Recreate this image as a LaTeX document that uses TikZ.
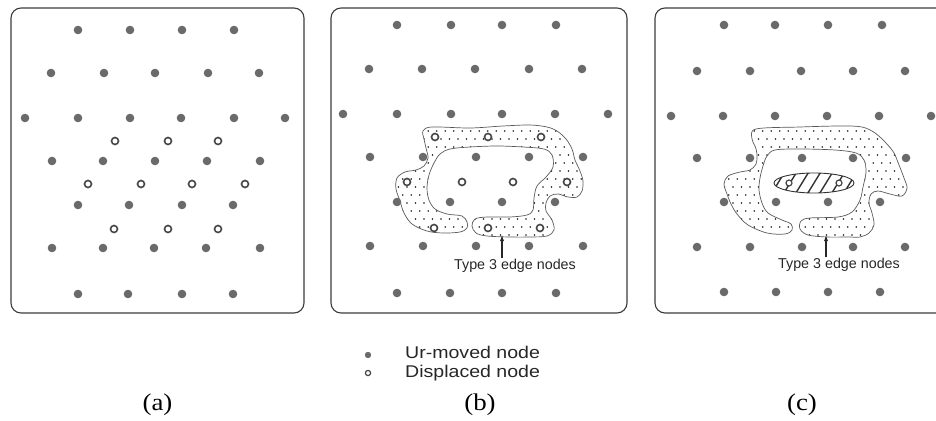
\documentclass[tikz,border=0pt]{standalone}
\usepackage{fontspec}
\setmainfont{Liberation Serif}
\newfontfamily\arialf{Liberation Sans}
\usetikzlibrary{arrows.meta}
\definecolor{dotgray}{HTML}{6A6A6A}
\definecolor{ringgray}{HTML}{454545}
\definecolor{framegray}{HTML}{3C3C3C}
\definecolor{blobline}{HTML}{5A5A5A}
\tikzset{
  frame/.style={draw=framegray, line width=1.1pt, rounded corners=10pt},
  udot/.style={fill=dotgray},
  dnode/.style={draw=ringgray, line width=1.6pt, fill=white},
  blob/.style={draw=blobline, line width=0.7pt},
  speck/.style={fill=black!90},
  hatch/.style={draw=black!80, line width=1.4pt},
  ellline/.style={draw=black!80, line width=0.9pt},
  ptr/.style={-{Latex[length=6pt,width=4.2pt]}, line width=1.1pt, draw=black!85},
  lbl/.style={font=\arialf\fontsize{14.3}{16}\selectfont, text=black!85, inner sep=0pt, anchor=base},
  leg/.style={font=\arialf\fontsize{17}{19}\selectfont, text=black!85, inner sep=0pt, anchor=base west},
  captext/.style={font=\fontsize{24}{28}\selectfont, text=black, inner sep=0pt}
}
\newcommand\udots[2]{\foreach \xx in {#2}{\fill[udot] (\xx,#1) circle (4.3pt);}}
\newcommand\odots[2]{\foreach \xx in {#2}{\filldraw[dnode] (\xx,#1) circle (3.5pt);}}
\def\blobB{plot[smooth cycle,tension=0.55] coordinates {
(423,131) (432,127) (470,128) (503,126) (530,125) (547,127) (557,131)
(566,139) (572,149) (575,160) (580,171) (583,181) (582,191) (577,197)
(568,197) (558,194) (550,196) (546,203) (546,211) (552,220) (554,230)
(547,236) (530,237) (510,237) (487,236) (476,233) (472,226) (475,219)
(487,217) (510,217) (527,215) (533,210) (534,198) (537,186) (546,177)
(553,167) (552,155) (544,149) (523,147) (497,146) (470,147) (450,149)
(440,154) (434,163) (429,175) (427,188) (429,200) (435,209) (447,214)
(462,216) (467,222) (467,228) (460,232) (443,233) (427,231) (412,224)
(404,213) (400,201) (396,189) (397,178) (405,172) (416,170) (424,166)
(428,158) (426,148) (424,139)}}
\def\blobC{plot[smooth cycle,tension=0.55] coordinates {
(752,139) (756,129) (800,127) (840,126) (862,127) (875,133) (886,143)
(894,153) (899,165) (904,178) (907,188) (902,196) (890,194) (878,191)
(871,194) (869,203) (872,213) (874,225) (869,233) (860,237) (848,237)
(827,237) (808,235) (800,229) (801,221) (810,218) (838,217) (852,212)
(860,200) (863,187) (866,172) (864,160) (856,153) (835,150) (800,149)
(775,150) (767,156) (763,166) (760,178) (759,190) (762,203) (768,213)
(782,220) (791,224) (792,230) (785,234) (767,233) (748,225) (737,214)
(731,204) (727,194) (724,184) (728,176) (740,172) (750,170) (756,164)
(757,154) (755,146)}}
\begin{document}
\begin{tikzpicture}[x=1pt,y=-1pt]
\clip (0,0) rectangle (936,420);
% frames
\draw[frame] (11,8) rectangle (304,313);
\draw[frame] (331,8) rectangle (627,313);
\draw[frame] (655,8) rectangle (962,313);
% blob (b)
\begin{scope}
  \clip \blobB;
  \foreach \j in {0,...,14}{
    \foreach \i in {0,...,23}{
      \fill[speck] ({390+\i*8.5+mod(\j,2)*4.25},{123+\j*8}) circle (0.8pt);
    }
  }
\end{scope}
\draw[blob] \blobB;
% blob (c)
\begin{scope}
  \clip \blobC;
  \foreach \j in {0,...,14}{
    \foreach \i in {0,...,23}{
      \fill[speck] ({716+\i*8.5+mod(\j,2)*4.25},{123+\j*8}) circle (0.8pt);
    }
  }
\end{scope}
\draw[blob] \blobC;
% panel (a)
\udots{30}{78,130,182,234}
\udots{73}{51,104,155,208,259}
\udots{118}{25,78,130,181,234,285}
\odots{141}{115,168,218}
\udots{161}{52,103,155,207,260}
\odots{184}{88,141,192,245}
\udots{205}{78,129,182,233}
\odots{229}{114,168,218}
\udots{248}{52,103,154,206,260}
\udots{294}{78,128,182,233}
% panel (b)
\udots{25}{397,451,502,556}
\udots{69}{369,422,475,529,582}
\udots{114}{343,397,451,502,555,608}
\odots{137}{435,488,541}
\udots{157}{370,423,476,529,583}
\odots{182}{407,462,513,567}
\udots{202}{397,450,502,555}
\odots{228}{434,488,540}
\udots{246}{370,423,476,529,583}
\udots{293}{397,450,502,556}
% panel (c)
\udots{25}{724,775,828,882}
\udots{71}{697,750,801,853,905}
\udots{116}{671,723,775,827,879,931}
\udots{158}{697,750,802,853,906}
\udots{202}{724,776,828,880}
\udots{247}{697,750,802,853,905}
\udots{292}{724,776,828,880}
% hatched ellipse (c)
\begin{scope}
  \clip (814,183) ellipse [x radius=40pt, y radius=10pt];
  \foreach \k in {-4,...,4}{
    \draw[hatch] ({814+\k*12-8},196) -- ({814+\k*12+8},170);
  }
\end{scope}
\draw[ellline] (814,183) ellipse [x radius=40pt, y radius=10pt];
\filldraw[dnode, line width=1.2pt] (789,183) circle (3pt);
\filldraw[dnode, line width=1.2pt] (839,183) circle (3pt);
% labels with arrows
\node[lbl] (tb) at (515,269) {Type 3 edge nodes};
\coordinate (ab) at (502,235);
\draw[ptr] (ab |- tb.north) -- (ab);
\node[lbl] (tc) at (839,268) {Type 3 edge nodes};
\coordinate (ac) at (826,235);
\draw[ptr] (ac |- tc.north) -- (ac);
% legend
\fill[udot] (368,355) circle (3.2pt);
\filldraw[dnode, line width=1.2pt] (368,373) circle (2.6pt);
\node[leg] (l1) at (405,358) {\scalebox{1.15}[1]{Ur-moved node}};
\node[leg] (l2) at (405,377) {\scalebox{1.15}[1]{Displaced node}};
% captions
\node[captext] (ca) at (157.5,405) {\scalebox{1.12}[1]{(a)}};
\node[captext] (cb) at (480,405) {\scalebox{1.12}[1]{(b)}};
\node[captext] (cc) at (802,405) {\scalebox{1.12}[1]{(c)}};
\end{tikzpicture}
\end{document}
